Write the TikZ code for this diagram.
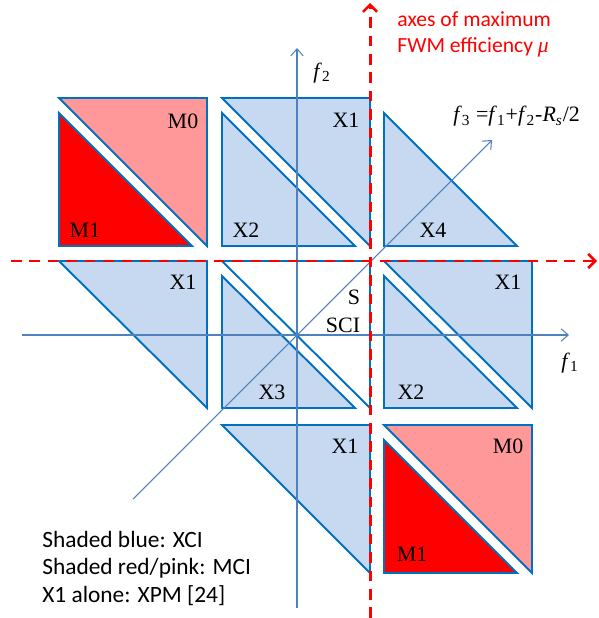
\documentclass[tikz,border=0pt]{standalone}
\usepackage{fontspec}
\setmainfont{Liberation Serif}
\setsansfont{Carlito}
\usetikzlibrary{arrows.meta}
\definecolor{edge}{HTML}{0070C0}
\definecolor{xci}{HTML}{C6D9F0}
\definecolor{mzero}{HTML}{FF9999}
\definecolor{mone}{HTML}{FF0000}
\definecolor{axis}{HTML}{4F81BD}
\definecolor{fwm}{HTML}{FF0000}

\begin{document}
\begin{tikzpicture}[x=0.02cm,y=-0.02cm,
    every node/.style={font=\fontsize{12.5}{15}\selectfont,inner sep=0pt},
    tri/.style={draw=edge,fill=xci,line width=1.1pt},
    axisline/.style={draw=axis,line width=.6pt,-{Straight Barb[length=4pt,width=7pt]}},
    maxline/.style={draw=fwm,line width=1.7pt,dash pattern=on 6pt off 4.5pt,
        -{Straight Barb[length=4pt,width=8pt,line width=1.5pt]}},
    note/.style={font=\sffamily\fontsize{13.3}{15.5}\selectfont,align=left,anchor=base west}]
  \useasboundingbox (0,0) rectangle (598,618);

  % top row
  \filldraw[tri,fill=mzero] (59,98) -- (207,98) -- (207,246) -- cycle;
  \filldraw[tri,fill=mone] (59,113) -- (59,246) -- (192,246) -- cycle;
  \filldraw[tri] (222,98) -- (370,98) -- (370,246) -- cycle;
  \filldraw[tri] (222,113) -- (222,246) -- (355,246) -- cycle;
  \filldraw[tri] (384,113) -- (384,246) -- (517,246) -- cycle;
  % middle row
  \filldraw[tri] (59,261) -- (207,261) -- (207,408) -- cycle;
  \filldraw[tri,fill=white] (222,261) -- (370,261) -- (370,408) -- cycle;
  \filldraw[tri] (222,276) -- (222,408) -- (355,408) -- cycle;
  \filldraw[tri] (384,261) -- (532,261) -- (532,408) -- cycle;
  \filldraw[tri] (384,276) -- (384,408) -- (517,408) -- cycle;
  % bottom row
  \filldraw[tri] (222,425) -- (370,425) -- (370,573) -- cycle;
  \filldraw[tri,fill=mzero] (384,425) -- (532,425) -- (532,573) -- cycle;
  \filldraw[tri,fill=mone] (384,440) -- (384,573) -- (517,573) -- cycle;

  % frequency axes
  \coordinate (f1from) at (22,335);
  \coordinate (f1to) at (569,335);
  \coordinate (f2from) at (297,608);
  \coordinate (f2to) at (297,48);
  \coordinate (f3from) at (133,499);
  \coordinate (f3to) at (492,140);
  \draw[axisline] (f1from) -- (f1to);
  \draw[axisline] (f2from) -- (f2to);
  \draw[axisline] (f3from) -- (f3to);

  % axes of maximum efficiency
  \coordinate (mufrom) at (11,261);
  \coordinate (muto) at (597,261);
  \coordinate (mvfrom) at (370,618);
  \coordinate (mvto) at (370,3);
  \draw[maxline] (mufrom) -- (muto);
  \draw[maxline] (mvfrom) -- (mvto);

  \node (m0a) at (183,121) {M0};
  \node (m1a) at (85,230) {M1};
  \node (x2a) at (246,230) {X2};
  \node (x1a) at (346,120) {X1};
  \node (x4) at (433,230) {X4};
  \node (x1b) at (183,282) {X1};
  \node (s) at (354,297) {S};
  \node (sci) at (343,325) {SCI};
  \node (x3) at (272,392) {X3};
  \node (x2b) at (411,392) {X2};
  \node (x1c) at (508,282) {X1};
  \node (x1d) at (345,446) {X1};
  \node (m0b) at (508,446) {M0};
  \node (m1b) at (412,554) {M1};

  \node (f1) at (570,363) {\textit{f}\textsubscript{1}};
  \node (f2) at (322,73) {\textit{f}\textsubscript{2}};
  \node[anchor=base west] (f3) at (453,122)
    {\textit{f}\textsubscript{3} =\textit{f}\textsubscript{1}+\textit{f}\textsubscript{2}-\textit{R}\textsubscript{\textit{s}}/2};

  % last line baselines
  \node[note,text=fwm,font=\sffamily\fontsize{12.3}{15}\selectfont] (fwmnote) at (397,53)
    {axes of maximum\\FWM efficiency {\rmfamily\itshape μ}};
  \node[note] (legend) at (42,602)
    {Shaded blue: XCI\\Shaded red/pink: MCI\\X1 alone: XPM [24]};
\end{tikzpicture}
\end{document}
